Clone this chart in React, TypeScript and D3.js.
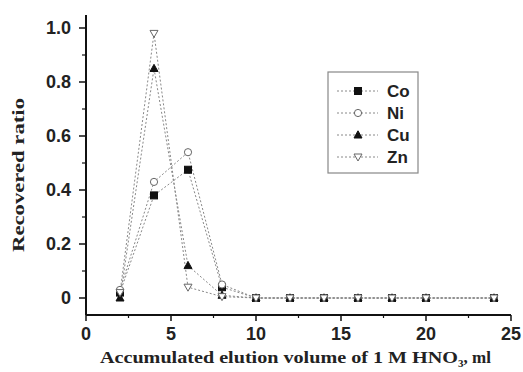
import * as d3 from "d3";

const volumes = [2, 4, 6, 8, 10, 12, 14, 16, 18, 20, 24];
const coValues = [0.02, 0.38, 0.475, 0.04, 0, 0, 0, 0, 0, 0, 0];
const niValues = [0.03, 0.43, 0.54, 0.05, 0, 0, 0, 0, 0, 0, 0];
const cuValues = [0.0, 0.85, 0.12, 0.01, 0, 0, 0, 0, 0, 0, 0];
const znValues = [0.02, 0.98, 0.04, 0.005, 0, 0, 0, 0, 0, 0, 0];
const xTicks = [0, 5, 10, 15, 20, 25];
const yTicks = [0, 0.2, 0.4, 0.6, 0.8, 1.0];

const series = [
  { name: "Co", values: coValues, marker: "square", filled: true },
  { name: "Ni", values: niValues, marker: "circle", filled: false },
  { name: "Cu", values: cuValues, marker: "triangle", filled: true },
  { name: "Zn", values: znValues, marker: "down", filled: false },
];

const W = 523;
const H = 372;

function Marker({ type, filled, x, y }: { type: string; filled: boolean; x: number; y: number }) {
  const fill = filled ? "#111" : "#fff";
  const stroke = filled ? "#111" : "#666";
  if (type === "square") return <rect x={x - 3.5} y={y - 3.5} width={7} height={7} fill={fill} stroke={stroke} />;
  if (type === "circle") return <circle cx={x} cy={y} r={3.6} fill={fill} stroke={stroke} strokeWidth={1} />;
  if (type === "triangle")
    return <path d={`M${x},${y - 4.2}L${x + 4},${y + 3}L${x - 4},${y + 3}Z`} fill={fill} stroke={stroke} />;
  return <path d={`M${x},${y + 4}L${x + 4},${y - 3}L${x - 4},${y - 3}Z`} fill={fill} stroke={stroke} />;
}

export default function App() {
  const x = d3.scaleLinear().domain([0, 25]).range([86, 511]);
  const y = d3.scaleLinear().domain([0, 1]).range([298, 28]);
  const line = d3
    .line<number>()
    .x((_, i) => x(volumes[i]))
    .y((d) => y(d));
  const minorX = d3.range(2.5, 25, 5);
  const minorY = d3.range(0.1, 1.05, 0.2);
  const axisBottom = 315;
  const font = "Arial, 'Liberation Sans', sans-serif";
  const serif = "'Times New Roman', 'Liberation Serif', serif";

  return (
    <svg width={W} height={H} style={{ position: "absolute", left: 0, top: 0, background: "#fff" }}>
      {/* axes */}
      <line x1={x(0)} x2={x(0)} y1={15} y2={axisBottom} stroke="#111" strokeWidth={2} />
      <line x1={x(0)} x2={x(25)} y1={axisBottom} y2={axisBottom} stroke="#111" strokeWidth={2} />
      {yTicks.map((t) => (
        <g key={t}>
          <line x1={x(0) - 7} x2={x(0)} y1={y(t)} y2={y(t)} stroke="#111" strokeWidth={1.5} />
          <text x={x(0) - 15} y={y(t)} dy="0.36em" textAnchor="end" fontFamily={font} fontWeight="bold" fontSize={18} fill="#222">
            {t === 0 ? "0" : t.toFixed(1)}
          </text>
        </g>
      ))}
      {minorY.map((t) => (
        <line key={t} x1={x(0) - 4} x2={x(0)} y1={y(t)} y2={y(t)} stroke="#111" strokeWidth={1.2} />
      ))}
      {xTicks.map((t) => (
        <g key={t}>
          <line x1={x(t)} x2={x(t)} y1={axisBottom} y2={axisBottom + 6} stroke="#111" strokeWidth={1.5} />
          <text x={x(t)} y={340} textAnchor="middle" fontFamily={font} fontWeight="bold" fontSize={18} fill="#222">
            {t}
          </text>
        </g>
      ))}
      {minorX.map((t) => (
        <line key={t} x1={x(t)} x2={x(t)} y1={axisBottom} y2={axisBottom + 3} stroke="#111" strokeWidth={1.2} />
      ))}

      {/* series */}
      {series.map((s) => (
        <path key={s.name} d={line(s.values) ?? ""} fill="none" stroke="#888" strokeWidth={1} strokeDasharray="2,2" />
      ))}
      {series.map((s) =>
        s.values.map((v, i) => (
          <Marker key={s.name + i} type={s.marker} filled={s.filled} x={x(volumes[i])} y={y(v)} />
        ))
      )}

      {/* legend */}
      <rect x={328} y={72} width={90} height={101} fill="#fff" stroke="#888" strokeWidth={1.2} />
      {series.map((s, i) => {
        const ly = 91 + i * 22;
        return (
          <g key={s.name}>
            <line x1={337} x2={378} y1={ly} y2={ly} stroke="#888" strokeWidth={1} strokeDasharray="2,2" />
            <Marker type={s.marker} filled={s.filled} x={358} y={ly} />
            <text x={387} y={ly} dy="0.36em" fontFamily={font} fontWeight="bold" fontSize={17} fill="#222">
              {s.name}
            </text>
          </g>
        );
      })}

      {/* axis titles */}
      <text
        transform={`translate(24, 175) rotate(-90)`}
        textAnchor="middle"
        fontFamily={serif}
        fontWeight="bold"
        fontSize={17}
        fill="#222"
        textLength={154}
        lengthAdjust="spacingAndGlyphs"
      >
        Recovered ratio
      </text>
      <text x={100} y={363} fontFamily={serif} fontWeight="bold" fontSize={17} fill="#222">
        <tspan textLength={358} lengthAdjust="spacingAndGlyphs">Accumulated elution volume of 1 M HNO</tspan>
        <tspan fontSize={11} dy={4}>3</tspan>
        <tspan dy={-4}>, ml</tspan>
      </text>
    </svg>
  );
}
